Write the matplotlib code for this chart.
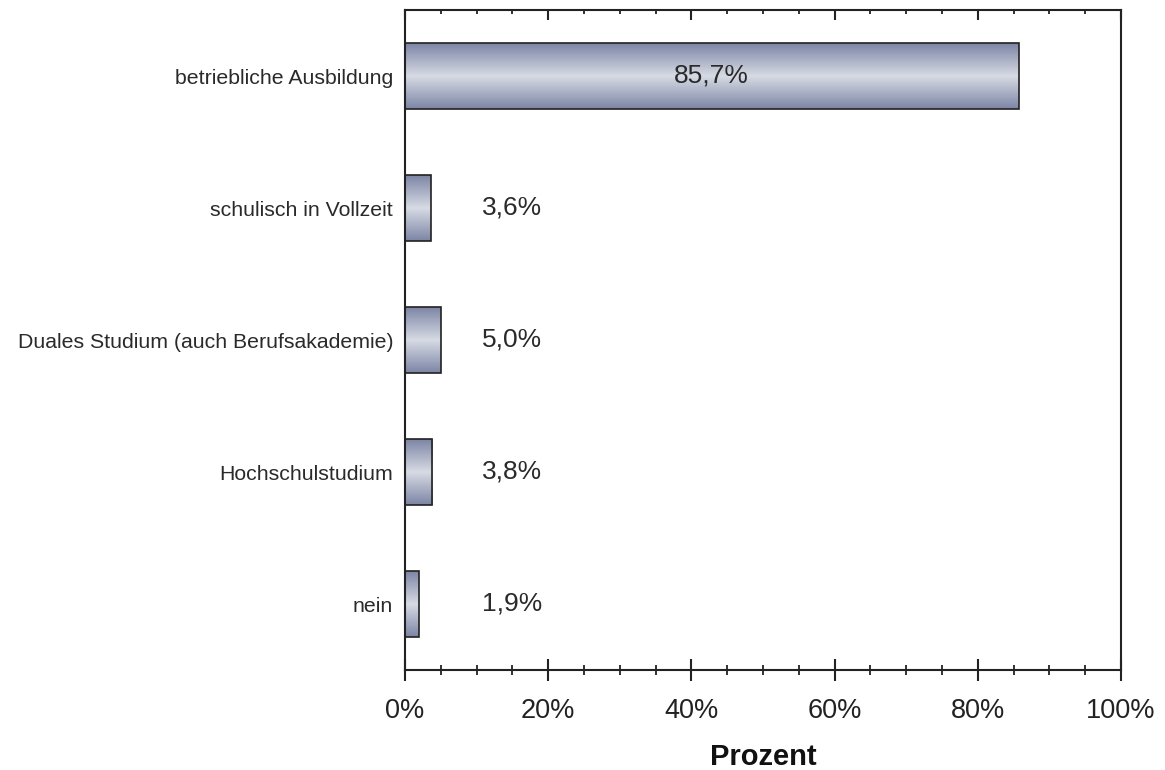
import numpy as np
import matplotlib
matplotlib.use("Agg")
import matplotlib.pyplot as plt
from matplotlib.colors import LinearSegmentedColormap
from matplotlib.ticker import MultipleLocator, FuncFormatter, NullFormatter

categories = ["betriebliche Ausbildung", "schulisch in Vollzeit",
              "Duales Studium (auch Berufsakademie)", "Hochschulstudium", "nein"]
values = [85.7, 3.6, 5.0, 3.8, 1.9]
value_labels = ["85,7%", "3,6%", "5,0%", "3,8%", "1,9%"]
xlabel = "Prozent"

plt.rcParams['font.family'] = ['Liberation Sans', 'DejaVu Sans']

fig = plt.figure(figsize=(11.65, 7.7), dpi=100)
W, H = 1165, 770
ax = fig.add_axes([405 / W, 1 - 670 / H, (1121 - 405) / W, (670 - 10) / H])

ypos = np.arange(len(categories))
bar_h = 0.5
cmap = LinearSegmentedColormap.from_list(
    "steel", [(0.0, "#7c85a5"), (0.5, "#d7dbe4"), (1.0, "#7c85a5")])
grad = np.linspace(0, 1, 256).reshape(-1, 1)

bars = ax.barh(ypos, values, height=bar_h, color="none", edgecolor="#222222",
               linewidth=1.2, zorder=3)
for bar in bars:
    x0, y0 = bar.get_x(), bar.get_y()
    w, h = bar.get_width(), bar.get_height()
    im = ax.imshow(grad, cmap=cmap, aspect="auto", extent=[x0, x0 + w, y0, y0 + h],
                   origin="lower", zorder=2, interpolation="bicubic")
    im.set_clip_path(bar)

for i, (v, lab) in enumerate(zip(values, value_labels)):
    xx = v / 2 if v > 50 else 14.9
    ax.text(xx, i, lab, ha="center", va="center", fontsize=19, color="#2a2a2a", zorder=4)

ax.set_xlim(0, 100)
ax.set_ylim(len(categories) - 0.5, -0.5)
ax.set_yticks(ypos)
ax.set_yticklabels(categories, fontsize=15.3, color="#2a2a2a")
ax.tick_params(axis="y", length=0, pad=8.5)

ax.xaxis.set_major_locator(MultipleLocator(20))
ax.xaxis.set_minor_locator(MultipleLocator(5))
ax.xaxis.set_major_formatter(FuncFormatter(lambda x, p: f"{int(round(x))}%"))
ax.tick_params(axis="x", which="major", direction="inout", length=16, width=1.5,
               labelsize=19.5, pad=12.5, colors="#222222")
ax.tick_params(axis="x", which="minor", direction="inout", length=7, width=1.3,
               colors="#222222")

top = ax.secondary_xaxis("top")
top.xaxis.set_major_locator(MultipleLocator(20))
top.xaxis.set_minor_locator(MultipleLocator(5))
top.xaxis.set_major_formatter(NullFormatter())
top.tick_params(axis="x", which="major", direction="in", length=7, width=1.5, colors="#222222")
top.tick_params(axis="x", which="minor", direction="in", length=3.2, width=1.3, colors="#222222")
top.spines["top"].set_visible(False)

for s in ax.spines.values():
    s.set_linewidth(1.5)
    s.set_color("#222222")

ax.set_xlabel(xlabel, fontsize=21, fontweight="bold", labelpad=13.5, color="#111111")

fig.savefig("out.png", dpi=100)
